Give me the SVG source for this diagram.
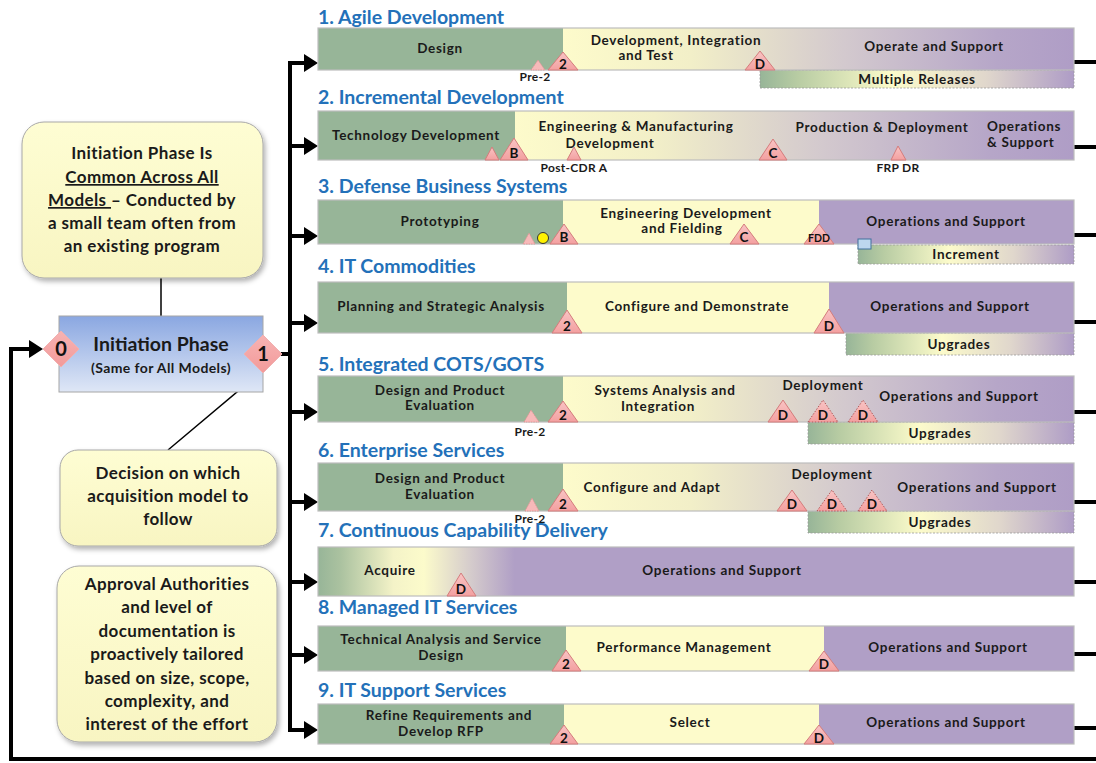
<svg xmlns="http://www.w3.org/2000/svg" width="1096" height="763" viewBox="0 0 1096 763">
  <style>
    text { font-family: Lato, "Open Sans", "Liberation Sans", sans-serif; font-weight: bold; }
    .ttl { font-size: 19.5px; fill: #2371B9; }
    .lbl { font-size: 13.5px; letter-spacing: 0.7px; fill: #1A1A1A; text-anchor: middle; }
    .lbl-l { font-size: 13.5px; letter-spacing: 0.7px; fill: #1A1A1A; }
    .tag { font-size: 12px; letter-spacing: 0.3px; fill: #1A1A1A; text-anchor: middle; }
    .ms-t { font-size: 13.5px; fill: #111; text-anchor: middle; }
    .note { font-size: 17px; letter-spacing: 0.4px; fill: #1A1A1A; text-anchor: middle; }
    .g { fill: #97B598; }
    .y { fill: #FDFBCB; }
    .p { fill: #B09FC6; }
    .frame { fill: none; stroke: #BDBDBD; stroke-width: 1.2; }
    .sub { stroke: #9A9A9A; stroke-width: 0.8; stroke-dasharray: 2 1.5; fill: url(#subFade); }
    .ms { fill: url(#msFill); stroke: #D47C7C; stroke-width: 1; }
    .msd { fill: url(#msFill); stroke: #B05A5A; stroke-width: 1; stroke-dasharray: 1.5 1.5; }
    .pre { fill: #F7B9B9; stroke: #E08F8F; stroke-width: 0.8; stroke-dasharray: 1.5 1; }
    .wire { fill: none; stroke: #000; stroke-width: 4; }
    .thin { fill: none; stroke: #000; stroke-width: 1.5; }
    .callout { fill: url(#noteFill); stroke: #A8A8A8; stroke-width: 1; filter: url(#shadow); }
  </style>
  <defs>
    <linearGradient id="ypFade" x1="0" y1="0" x2="1" y2="0">
      <stop offset="0" stop-color="#FDFBCB"/>
      <stop offset="0.25" stop-color="#F2EFC8"/>
      <stop offset="0.55" stop-color="#D3C9CE"/>
      <stop offset="0.85" stop-color="#B6A6C8"/>
      <stop offset="1" stop-color="#AF9DC6"/>
    </linearGradient>
    <linearGradient id="subFade" x1="0" y1="0" x2="1" y2="0">
      <stop offset="0" stop-color="#97B598"/>
      <stop offset="0.12" stop-color="#B8CCA3"/>
      <stop offset="0.42" stop-color="#FCFBCB"/>
      <stop offset="0.72" stop-color="#E0D7CC"/>
      <stop offset="1" stop-color="#AE9CC6"/>
    </linearGradient>
    <linearGradient id="cdFade" x1="318" y1="0" x2="1074" y2="0" gradientUnits="userSpaceOnUse">
      <stop offset="0" stop-color="#97B598"/>
      <stop offset="0.03" stop-color="#ABC2A0"/>
      <stop offset="0.1" stop-color="#F4F3C8"/>
      <stop offset="0.14" stop-color="#FCFBCB"/>
      <stop offset="0.2" stop-color="#D6CDCC"/>
      <stop offset="0.26" stop-color="#B09FC6"/>
      <stop offset="1" stop-color="#B09FC6"/>
    </linearGradient>
    <linearGradient id="msFill" x1="0" y1="0" x2="0" y2="1">
      <stop offset="0" stop-color="#F9C4C4"/>
      <stop offset="1" stop-color="#F3A0A0"/>
    </linearGradient>
    <linearGradient id="noteFill" x1="0" y1="0" x2="0" y2="1">
      <stop offset="0" stop-color="#FEFDD3"/>
      <stop offset="1" stop-color="#F8F5C2"/>
    </linearGradient>
    <linearGradient id="initFill" x1="0" y1="0" x2="0" y2="1">
      <stop offset="0" stop-color="#8AA7E1"/>
      <stop offset="1" stop-color="#DFE7F6"/>
    </linearGradient>
    <linearGradient id="diaFill" x1="0" y1="0" x2="0" y2="1">
      <stop offset="0" stop-color="#F7B3B3"/>
      <stop offset="1" stop-color="#F29A9A"/>
    </linearGradient>
    <filter id="shadow" x="-10%" y="-10%" width="125%" height="125%">
      <feDropShadow dx="2" dy="3" stdDeviation="2.5" flood-color="#000" flood-opacity="0.3"/>
    </filter>
    <marker id="head" markerUnits="userSpaceOnUse" markerWidth="14" markerHeight="18" refX="0" refY="9" orient="auto">
      <path d="M0,0 L14,9 L0,18 z" fill="#000"/>
    </marker>
  </defs>

  <rect width="1096" height="763" fill="#FFFFFF"/>

  <!-- connectors: feedback loop, distribution bus and callout leaders -->
  <g id="connectors">
    <path class="wire" d="M1096,759 H11 V349 H29" marker-end="url(#head)"/>
    <path class="wire" d="M290,61 V732"/>
    <path class="wire" d="M280,354 H292" stroke-width="3"/>
    <path class="wire" d="M290,63 H304" marker-end="url(#head)"/>
    <path class="wire" d="M290,146 H304" marker-end="url(#head)"/>
    <path class="wire" d="M290,236 H304" marker-end="url(#head)"/>
    <path class="wire" d="M290,323 H304" marker-end="url(#head)"/>
    <path class="wire" d="M290,412 H304" marker-end="url(#head)"/>
    <path class="wire" d="M290,502 H304" marker-end="url(#head)"/>
    <path class="wire" d="M290,582 H304" marker-end="url(#head)"/>
    <path class="wire" d="M290,655 H304" marker-end="url(#head)"/>
    <path class="wire" d="M290,730 H304" marker-end="url(#head)"/>
    <path class="wire" d="M1074,62 H1096 M1074,147 H1096 M1074,235 H1096 M1074,322 H1096 M1074,412 H1096 M1074,502 H1096 M1074,582 H1096 M1074,654 H1096 M1074,728 H1096"/>
    <path class="thin" d="M161,278 V316"/>
    <path class="thin" d="M262,371 L168,450"/>
  </g>

  <!-- callout: common initiation -->
  <g id="note-common">
    <rect class="callout" x="22" y="122" width="241" height="156" rx="22"/>
    <text class="note" x="142" y="159">Initiation Phase Is</text>
    <text class="note" x="142" y="183" text-decoration="underline">Common Across All</text>
    <text class="note" x="142" y="206"><tspan text-decoration="underline">Models </tspan>– Conducted by</text>
    <text class="note" x="142" y="229">a small team often from</text>
    <text class="note" x="142" y="252">an existing program</text>
  </g>

  <!-- initiation phase with entry/exit decision points -->
  <g id="initiation">
    <rect x="59" y="316" width="204" height="76" fill="url(#initFill)" stroke="#A6A6A6" stroke-width="1"/>
    <text x="161" y="351" font-size="19.5" fill="#1A1A1A" text-anchor="middle">Initiation Phase</text>
    <text x="161" y="373" font-size="14" letter-spacing="0.4" fill="#1A1A1A" text-anchor="middle">(Same for All Models)</text>
  </g>
  <g id="decision-0">
    <polygon points="43,349 61,331 79,349 61,367" fill="url(#diaFill)" stroke="#F0B0B0" stroke-width="1"/>
    <text x="61" y="356" font-size="20" fill="#111" text-anchor="middle">0</text>
  </g>
  <g id="decision-1">
    <polygon points="244,354 263,335 282,354 263,373" fill="url(#diaFill)" stroke="#F0B0B0" stroke-width="1"/>
    <text x="263" y="361" font-size="20" fill="#111" text-anchor="middle">1</text>
  </g>

  <!-- callout: model decision -->
  <g id="note-decision">
    <rect class="callout" x="60" y="450" width="217" height="96" rx="18"/>
    <text class="note" x="168" y="479">Decision on which</text>
    <text class="note" x="168" y="502">acquisition model to</text>
    <text class="note" x="168" y="525">follow</text>
  </g>

  <!-- callout: tailoring -->
  <g id="note-tailoring">
    <rect class="callout" x="57" y="566" width="220" height="176" rx="22"/>
    <text class="note" x="167" y="590">Approval Authorities</text>
    <text class="note" x="167" y="613">and level of</text>
    <text class="note" x="167" y="637">documentation is</text>
    <text class="note" x="167" y="660">proactively tailored</text>
    <text class="note" x="167" y="684">based on size, scope,</text>
    <text class="note" x="167" y="707">complexity, and</text>
    <text class="note" x="167" y="730">interest of  the effort</text>
  </g>

  <!-- 1. Agile Development -->
  <g id="model-1">
    <text class="ttl" x="318" y="24">1. Agile Development</text>
    <rect class="sub" x="760" y="70" width="314" height="18"/>
    <rect class="g" x="318" y="28" width="245" height="42"/>
    <rect x="563" y="28" width="511" height="42" fill="url(#ypFade)"/>
    <rect class="frame" x="318" y="28" width="756" height="42"/>
    <text class="lbl" x="440" y="53">Design</text>
    <text class="lbl" x="676" y="45">Development, Integration</text>
    <text class="lbl" x="646" y="60">and Test</text>
    <text class="lbl" x="934" y="51">Operate and Support</text>
    <text class="lbl" x="917" y="84">Multiple Releases</text>
    <polygon class="pre" points="531,70 538,60 545,70"/>
    <text class="tag" x="535" y="81">Pre-2</text>
    <polygon class="ms" points="548,70 563,52 578,70"/>
    <text class="ms-t" x="563" y="68.5">2</text>
    <polygon class="ms" points="745,70 760,51 775,70"/>
    <text class="ms-t" x="760" y="68.5">D</text>
  </g>

  <!-- 2. Incremental Development -->
  <g id="model-2">
    <text class="ttl" x="318" y="104">2. Incremental Development</text>
    <rect class="g" x="318" y="111" width="197" height="49"/>
    <rect x="515" y="111" width="559" height="49" fill="url(#ypFade)"/>
    <rect class="frame" x="318" y="111" width="756" height="49"/>
    <text class="lbl" x="416" y="140">Technology Development</text>
    <text class="lbl" x="636" y="131">Engineering &amp; Manufacturing</text>
    <text class="lbl" x="610" y="148">Development</text>
    <text class="lbl" x="882" y="132">Production &amp; Deployment</text>
    <text class="lbl-l" x="987" y="131">Operations</text>
    <text class="lbl-l" x="987" y="147">&amp; Support</text>
    <polygon class="ms" points="485,160 492,147 499,160"/>
    <polygon class="ms" points="500,160 514,138 528,160"/>
    <text class="ms-t" x="514" y="158">B</text>
    <polygon class="ms" points="567,160 574,147 581,160"/>
    <text class="tag" x="574" y="172">Post-CDR A</text>
    <polygon class="ms" points="759,160 773,139 787,160"/>
    <text class="ms-t" x="773" y="158">C</text>
    <polygon class="ms" points="891,160 898,146 906,160"/>
    <text class="tag" x="898" y="172">FRP DR</text>
  </g>

  <!-- 3. Defense Business Systems -->
  <g id="model-3">
    <text class="ttl" x="318" y="193">3. Defense Business Systems</text>
    <rect class="sub" x="858" y="245" width="216" height="19"/>
    <rect class="g" x="318" y="200" width="245" height="44"/>
    <rect class="y" x="563" y="200" width="256" height="44"/>
    <rect class="p" x="819" y="200" width="255" height="44"/>
    <rect class="frame" x="318" y="200" width="756" height="44"/>
    <text class="lbl" x="440" y="226">Prototyping</text>
    <text class="lbl" x="686" y="218">Engineering Development</text>
    <text class="lbl" x="682" y="233">and Fielding</text>
    <text class="lbl" x="946" y="226">Operations and Support</text>
    <text class="lbl" x="966" y="259">Increment</text>
    <polygon class="pre" points="523,244 529,233 535,244"/>
    <circle cx="543" cy="238" r="5.5" fill="#FFF200" stroke="#333" stroke-width="1"/>
    <polygon class="ms" points="550,244 564,224 578,244"/>
    <text class="ms-t" x="564" y="242">B</text>
    <polygon class="ms" points="730,244 744,224 759,244"/>
    <text class="ms-t" x="744" y="242">C</text>
    <polygon class="ms" points="804,244 819,224 834,244"/>
    <text x="819" y="242" font-size="10.5" fill="#111" text-anchor="middle">FDD</text>
    <rect x="858" y="239" width="13" height="10" fill="#BDD7EE" stroke="#41719C" stroke-width="1"/>
  </g>

  <!-- 4. IT Commodities -->
  <g id="model-4">
    <text class="ttl" x="318" y="273">4. IT Commodities</text>
    <rect class="sub" x="846" y="333" width="228" height="22"/>
    <rect class="g" x="318" y="282" width="249" height="51"/>
    <rect class="y" x="567" y="282" width="262" height="51"/>
    <rect class="p" x="829" y="282" width="245" height="51"/>
    <rect class="frame" x="318" y="282" width="756" height="51"/>
    <text class="lbl" x="441" y="311">Planning and Strategic Analysis</text>
    <text class="lbl" x="697" y="311">Configure and Demonstrate</text>
    <text class="lbl" x="950" y="311">Operations and Support</text>
    <text class="lbl" x="959" y="349">Upgrades</text>
    <polygon class="ms" points="552,333 567,310 582,333"/>
    <text class="ms-t" x="567" y="331">2</text>
    <polygon class="ms" points="814,333 829,309 844,333"/>
    <text class="ms-t" x="829" y="331">D</text>
  </g>

  <!-- 5. Integrated COTS/GOTS -->
  <g id="model-5">
    <text class="ttl" x="318" y="371">5. Integrated COTS/GOTS</text>
    <rect class="sub" x="808" y="422" width="266" height="22"/>
    <rect class="g" x="318" y="376" width="245" height="46"/>
    <rect x="563" y="376" width="511" height="46" fill="url(#ypFade)"/>
    <rect class="frame" x="318" y="376" width="756" height="46"/>
    <text class="lbl" x="440" y="395">Design and Product</text>
    <text class="lbl" x="440" y="410">Evaluation</text>
    <text class="lbl" x="665" y="395">Systems Analysis and</text>
    <text class="lbl" x="658" y="411">Integration</text>
    <text class="lbl" x="823" y="390">Deployment</text>
    <text class="lbl" x="959" y="401">Operations and Support</text>
    <text class="lbl" x="940" y="438">Upgrades</text>
    <polygon class="pre" points="524,422 531,410 539,422"/>
    <text class="tag" x="530" y="436">Pre-2</text>
    <polygon class="ms" points="548,422 563,401 578,422"/>
    <text class="ms-t" x="563" y="420">2</text>
    <polygon class="ms" points="768,422 783,400 798,422"/>
    <text class="ms-t" x="783" y="420">D</text>
    <polygon class="msd" points="808,422 823,400 838,422"/>
    <text class="ms-t" x="823" y="420">D</text>
    <polygon class="msd" points="848,422 863,400 878,422"/>
    <text class="ms-t" x="863" y="420">D</text>
  </g>

  <!-- 6. Enterprise Services -->
  <g id="model-6">
    <text class="ttl" x="318" y="457">6. Enterprise Services</text>
    <rect class="sub" x="808" y="511" width="266" height="22"/>
    <rect class="g" x="318" y="463" width="245" height="48"/>
    <rect x="563" y="463" width="511" height="48" fill="url(#ypFade)"/>
    <rect class="frame" x="318" y="463" width="756" height="48"/>
    <text class="lbl" x="440" y="483">Design and Product</text>
    <text class="lbl" x="440" y="499">Evaluation</text>
    <text class="lbl" x="652" y="492">Configure and Adapt</text>
    <text class="lbl" x="832" y="479">Deployment</text>
    <text class="lbl" x="977" y="492">Operations and Support</text>
    <text class="lbl" x="940" y="527">Upgrades</text>
    <polygon class="pre" points="525,511 532,498 539,511"/>
    <text class="tag" x="530" y="523">Pre-2</text>
    <polygon class="ms" points="548,511 563,489 578,511"/>
    <text class="ms-t" x="563" y="509">2</text>
    <polygon class="ms" points="777,511 792,490 807,511"/>
    <text class="ms-t" x="792" y="509">D</text>
    <polygon class="msd" points="817,511 832,490 847,511"/>
    <text class="ms-t" x="832" y="509">D</text>
    <polygon class="msd" points="858,511 872,490 887,511"/>
    <text class="ms-t" x="872" y="509">D</text>
  </g>

  <!-- 7. Continuous Capability Delivery -->
  <g id="model-7">
    <text class="ttl" x="318" y="537">7. Continuous Capability Delivery</text>
    <rect x="318" y="547" width="756" height="49" fill="url(#cdFade)"/>
    <rect class="frame" x="318" y="547" width="756" height="49"/>
    <text class="lbl" x="390" y="575">Acquire</text>
    <text class="lbl" x="722" y="575">Operations and Support</text>
    <polygon class="ms" points="447,596 461,573 476,596"/>
    <text class="ms-t" x="461" y="594">D</text>
  </g>

  <!-- 8. Managed IT Services -->
  <g id="model-8">
    <text class="ttl" x="318" y="614">8. Managed IT Services</text>
    <rect class="g" x="318" y="626" width="248" height="45"/>
    <rect class="y" x="566" y="626" width="258" height="45"/>
    <rect class="p" x="824" y="626" width="250" height="45"/>
    <rect class="frame" x="318" y="626" width="756" height="45"/>
    <text class="lbl" x="441" y="644">Technical Analysis and  Service</text>
    <text class="lbl" x="441" y="660">Design</text>
    <text class="lbl" x="684" y="652">Performance Management</text>
    <text class="lbl" x="948" y="652">Operations and Support</text>
    <polygon class="ms" points="552,671 566,650 581,671"/>
    <text class="ms-t" x="566" y="669">2</text>
    <polygon class="ms" points="809,671 824,651 839,671"/>
    <text class="ms-t" x="824" y="669">D</text>
  </g>

  <!-- 9. IT Support Services -->
  <g id="model-9">
    <text class="ttl" x="318" y="697">9. IT Support Services</text>
    <rect class="g" x="318" y="704" width="246" height="40"/>
    <rect class="y" x="564" y="704" width="255" height="40"/>
    <rect class="p" x="819" y="704" width="255" height="40"/>
    <rect class="frame" x="318" y="704" width="756" height="40"/>
    <text class="lbl" x="449" y="720">Refine Requirements and</text>
    <text class="lbl" x="441" y="736">Develop RFP</text>
    <text class="lbl" x="690" y="727">Select</text>
    <text class="lbl" x="946" y="727">Operations and Support</text>
    <polygon class="ms" points="550,744 564,725 578,744"/>
    <text class="ms-t" x="564" y="742.5">2</text>
    <polygon class="ms" points="804,744 819,725 834,744"/>
    <text class="ms-t" x="819" y="742.5">D</text>
  </g>
</svg>
